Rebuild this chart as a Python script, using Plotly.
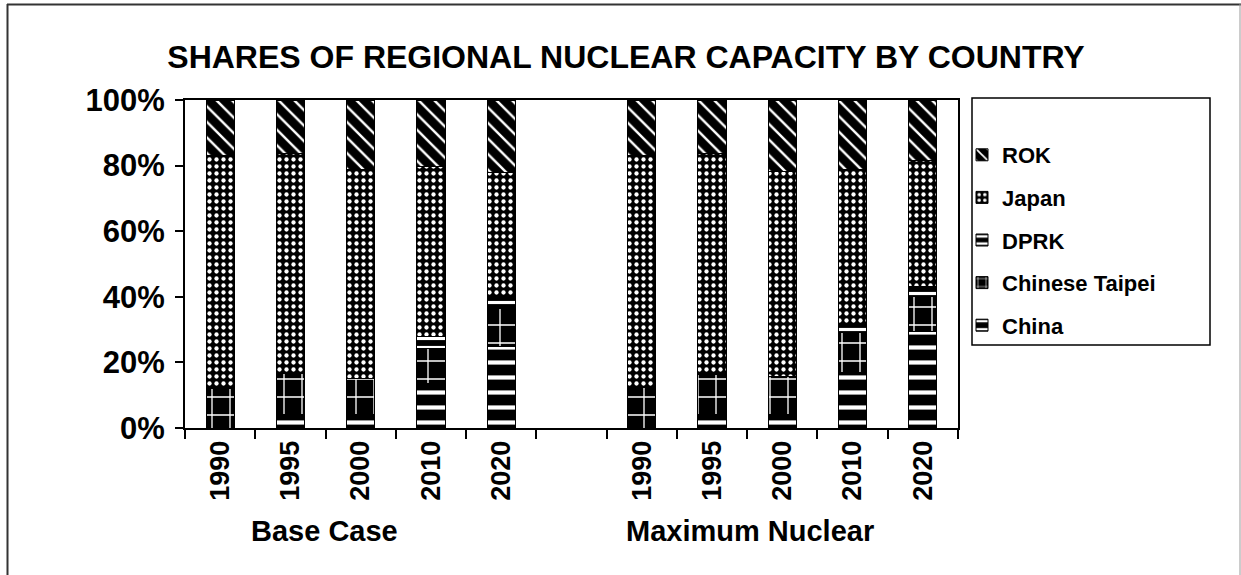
import plotly.graph_objects as go

# Scenario / year layout of the category axis
cases = ["Base Case"] * 5 + ["Maximum Nuclear"] * 5
years = ["1990", "1995", "2000", "2010", "2020"] * 2

# Shares of regional nuclear capacity (%), stacked bottom to top
china = [0.0, 4.0, 4.0, 13.6, 25.0, 0.0, 4.0, 4.0, 17.0, 29.5]
chinese_taipei = [12.1, 12.5, 11.1, 10.5, 11.5, 12.5, 12.2, 11.8, 12.0, 10.5]
dprk = [0.0, 0.0, 0.0, 3.7, 3.5, 0.0, 0.0, 0.0, 2.4, 3.0]
japan = [71.1, 67.2, 63.6, 51.8, 38.0, 70.7, 67.5, 62.4, 47.3, 38.5]
rok = [16.8, 16.3, 21.3, 20.4, 22.0, 16.8, 16.3, 21.8, 21.3, 18.5]

y_ticks = [0, 20, 40, 60, 80, 100]

FONT = "Liberation Sans, Arial, sans-serif"
W, H = 1241, 575
L, R, T, B = 185, 283, 100, 147
PW, PH = W - L - R, H - T - B

# slot index of each bar: one empty slot separates the two scenarios
slots = []
prev = None
pos = -1
for c in cases:
    pos += 1
    if prev is not None and c != prev:
        pos += 1
    slots.append(pos)
    prev = c
n_slots = slots[-1] + 1


def px(x):
    return (x - L) / PW


def py(y):
    return (T + PH - y) / PH


def bold(s):
    return f"<b>{s}</b>"


series = [
    ("China", china, dict(shape="-", size=15, solidity=0.28)),
    ("Chinese Taipei", chinese_taipei, dict(shape="+", size=18, solidity=0.14)),
    ("DPRK", dprk, dict(shape="-", size=9, solidity=0.35)),
    ("Japan", japan, dict(shape=".", size=7, solidity=0.3)),
    ("ROK", rok, dict(shape="\\", size=11, solidity=0.22)),
]

fig = go.Figure()
n_series = len(series)
for i, (name, vals, pat) in enumerate(series):
    fig.add_trace(go.Bar(
        x=slots, y=vals, name=bold(name), legendgroup=name,
        legendrank=n_series - i, width=0.4,
        marker=dict(
            color="black",
            line=dict(color="black", width=1),
            pattern=dict(fgcolor="white", bgcolor="black", fillmode="replace", **pat),
        ),
    ))

fig.update_layout(
    width=W, height=H,
    barmode="stack",
    paper_bgcolor="white", plot_bgcolor="white",
    margin=dict(l=L, r=R, t=T, b=B, autoexpand=False),
    font=dict(family=FONT, color="black"),
    title=dict(
        text=bold("SHARES OF REGIONAL NUCLEAR CAPACITY BY COUNTRY"),
        font=dict(family=FONT, size=32, color="black"),
        xref="container", yref="container",
        x=626 / W, y=1 - 57 / H, xanchor="center", yanchor="middle",
    ),
    legend=dict(
        x=px(962), y=py(134), xanchor="left", yanchor="top",
        traceorder="grouped", tracegroupgap=11,
        font=dict(family=FONT, size=22, color="black"),
        bgcolor="rgba(0,0,0,0)", borderwidth=0,
        itemwidth=30,
    ),
    showlegend=True,
)

fig.update_xaxes(
    range=[-0.5, n_slots - 0.5],
    tickmode="array", tickvals=slots, ticktext=[bold(y) for y in years],
    tickangle=-90, ticks="",
    tickfont=dict(family=FONT, size=27, color="black"),
    showline=True, linecolor="black", linewidth=2, mirror=True,
    showgrid=False, zeroline=False,
    minor=dict(
        tickmode="array",
        tickvals=[k - 0.5 for k in range(n_slots + 1)],
        ticks="outside", ticklen=9, tickwidth=2, tickcolor="black",
        showgrid=False,
    ),
)

fig.update_yaxes(
    range=[0, 100],
    tickmode="array", tickvals=y_ticks, ticktext=[bold(f"{v}%") for v in y_ticks],
    ticks="outside", ticklen=8, tickwidth=2, tickcolor="black",
    ticklabelstandoff=4,
    tickfont=dict(family=FONT, size=31, color="black"),
    showline=True, linecolor="black", linewidth=2, mirror=True,
    showgrid=False, zeroline=False,
)

# Scenario group labels under the year labels
group_labels = [("Base Case", 324), ("Maximum Nuclear", 750)]
for text, cx in group_labels:
    fig.add_annotation(
        text=bold(text), xref="paper", yref="paper",
        x=px(cx), y=py(531), xanchor="center", yanchor="middle",
        showarrow=False, font=dict(family=FONT, size=29, color="black"),
    )

# Legend frame
fig.add_shape(type="rect", xref="paper", yref="paper",
              x0=px(972), x1=px(1210), y0=py(345), y1=py(98),
              line=dict(color="black", width=1.5), fillcolor="rgba(0,0,0,0)")

# Chart-area frame
fig.add_shape(type="line", xref="paper", yref="paper",
              x0=px(7.5), x1=px(7.5), y0=py(4), y1=py(H + 5),
              line=dict(color="#333333", width=2))
fig.add_shape(type="line", xref="paper", yref="paper",
              x0=px(7), x1=px(W + 5), y0=py(4.5), y1=py(4.5),
              line=dict(color="#333333", width=2))
fig.add_shape(type="line", xref="paper", yref="paper",
              x0=px(1240), x1=px(1240), y0=py(4), y1=py(H + 5),
              line=dict(color="#999999", width=1))

fig.write_html("out.html")
